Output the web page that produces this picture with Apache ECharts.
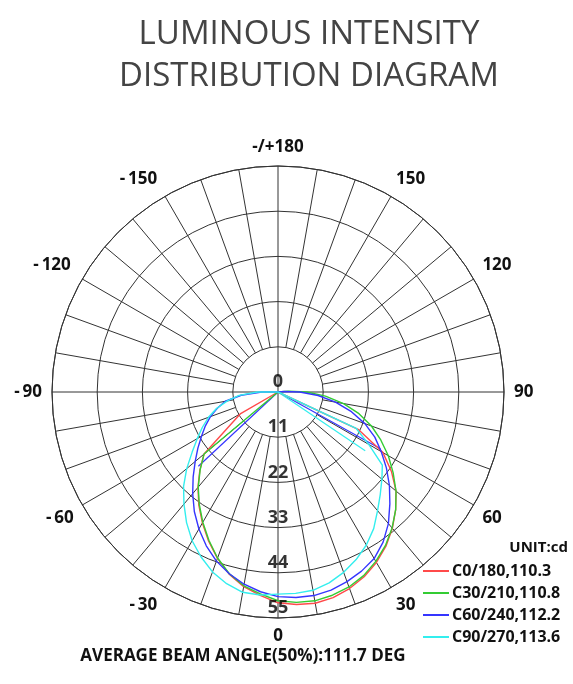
<!DOCTYPE html>
<html><head><meta charset="utf-8">
<script src="https://cdn.jsdelivr.net/npm/echarts@6/dist/echarts.min.js"></script>
<style>html,body{margin:0;padding:0;background:#fff}#c{width:573px;height:684px}</style>
</head><body><div id="c"></div>
<script>
// gamma angles (deg), 0 = straight down, positive to the right
const gammaAngles = [-100,-95,-90,-85,-80,-75,-70,-65,-60,-55,-50,-45,-40,-35,-30,-25,-20,-15,-10,-5,
  0,5,10,15,20,25,30,35,40,45,50,55,60,65,70,75,80,85,90,95,100];
// intensities ('-' = no point)
const c0_180  = ['-','-','-','-','-','-','-',0,10.5,'-',23.5,26.9,30.3,33.6,36.8,40,43.1,45.9,48.1,49.7,
  51.3,51.9,52.2,51.8,50.9,49.6,47.9,45.8,43.3,40.5,37.5,33.7,29.5,21.5,0,'-','-','-','-','-','-'];
const c30_210 = ['-','-','-','-','-','-','-','-','-',0,23.5,26.8,30.2,33.4,36.6,39.8,43,45.8,47.9,49.3,
  50.8,51.4,51.6,51.2,50.5,49.3,47.6,45.6,43.2,40.5,37.5,34.2,31,27.6,24.2,20.4,16.2,11.6,7,2.5,0];
const c60_240 = ['-',0,4,9,13,15.3,17.5,19.5,21.5,23.8,26.3,29.2,32.3,35.5,38.5,41.3,43.8,45.8,47.5,48.8,
  49.8,50.2,50.3,49.9,49.1,48.1,46.8,44.6,41.8,38.5,35.4,32.2,29,26,22.5,18.5,14.2,9.8,5.3,1.5,0];
const c90_270 = ['-',0,5,9.5,12.5,15.5,18,20.3,22.7,25.5,29,32.5,35.6,38.8,41.8,44.3,46.6,48.3,49.5,49.6,
  49.2,49.2,49,48.1,46.7,45,43,40.6,37.7,35.2,33,31,25.5,21,0,'-','-','-','-','-','-'];
// extra straight strokes from the centre: [intensity, angle]
const c60ChordLeft  = [[0,-90],[26.5,-47]];
const c60ChordRight = [[0,90],[28.5,61]];
const c90ChordRight = [[0,90],[25.6,56]];

const seriesNames = ['C0/180,110.3','C30/210,110.8','C60/240,112.2','C90/270,113.6'];
const seriesColors = ['#ff4a4a','#33cc33','#3535ff','#33eeee'];
const radiusTicks = [0,11,22,33,44,55];
const angleLabelMap = {'-180':'-/+180','180':'-/+180','-150':'-\u2009150\u2009','-120':'-\u2009120\u2009',
  '-90':'-\u200990','-60':'-\u200960','-30':'-\u200930\u2009'};
const titleText = 'LUMINOUS INTENSITY\nDISTRIBUTION DIAGRAM';
const footText = 'AVERAGE BEAM ANGLE(50%):111.7 DEG';
const unitText = 'UNIT:cd';

function toPairs(vals){
  const out=[];
  vals.forEach((v,i)=>{ if(v!=='-') out.push([v, gammaAngles[i]]); });
  return out;
}

const gridColor = '#333';
const series = [];
// spokes
for (let a=-170; a<=180; a+=10){
  const inner = (a % 90 === 0) ? 0 : 11;
  series.push({type:'line', coordinateSystem:'polar', silent:true, symbol:'none', animation:false,
    lineStyle:{color:gridColor, width:1}, data:[[inner,a],[55,a]], z:1});
}
const allCurves = [c0_180, c30_210, c60_240, c90_270];
allCurves.forEach((vals,k)=>{
  series.push({name:seriesNames[k], type:'line', coordinateSystem:'polar', symbol:'none', showSymbol:false,
    lineStyle:{color:seriesColors[k], width:1.4}, itemStyle:{color:seriesColors[k]}, data:toPairs(vals), z:5});
});
[[2,c60ChordLeft],[2,c60ChordRight],[3,c90ChordRight]].forEach(([k,d])=>{
  series.push({name:seriesNames[k], type:'line', coordinateSystem:'polar', symbol:'none',
    lineStyle:{color:seriesColors[k], width:1.2}, itemStyle:{color:seriesColors[k]}, data:d, z:4});
});
series.push({type:'scatter', coordinateSystem:'polar', symbolSize:0, silent:true,
  data: radiusTicks.map(r=>[r,0]),
  label:{show:true, position:'top', distance:1, formatter:p=>String(p.value[0]),
    color:'#000', fontWeight:'bold', fontSize:18, fontFamily:'Open Sans'}, z:6});

const chart = echarts.init(document.getElementById('c'));
chart.setOption({
  animation:false,
  backgroundColor:'#fff',
  title:[
    {text:titleText, left:304, top:9, textAlign:'center',
     textStyle:{fontFamily:'Open Sans', fontWeight:'normal', fontSize:33, color:'#444', lineHeight:42}},
    {text:footText, left:238, top:643, textAlign:'center',
     textStyle:{fontFamily:'Open Sans', fontWeight:'bold', fontSize:17, color:'#111'}}
  ],
  graphic:[{type:'text', right:5, top:540, style:{text:unitText, font:'bold 15px "Open Sans"', fill:'#111'}}],
  legend:{orient:'vertical', left:418, top:558, itemWidth:26, itemHeight:2, itemGap:6, icon:'rect',
    selectedMode:false, data:seriesNames,
    textStyle:{fontFamily:'Open Sans', fontWeight:'bold', fontSize:16, color:'#111', padding:[0,0,0,-2]}},
  polar:{center:[278,392], radius:226},
  angleAxis:{type:'value', min:-180, max:180, interval:30, startAngle:90, clockwise:false,
    axisLine:{show:true, lineStyle:{color:gridColor, width:1}},
    axisTick:{show:false}, splitLine:{show:false},
    axisLabel:{margin:10, fontFamily:'Open Sans', fontWeight:'bold', fontSize:17, color:'#111',
      formatter:v=> angleLabelMap[String(v)] || String(v)}},
  radiusAxis:{type:'value', min:0, max:55, interval:11,
    axisLine:{show:false}, axisTick:{show:false}, axisLabel:{show:false},
    splitLine:{show:true, lineStyle:{color:gridColor, width:1}}},
  series
});
</script></body></html>
